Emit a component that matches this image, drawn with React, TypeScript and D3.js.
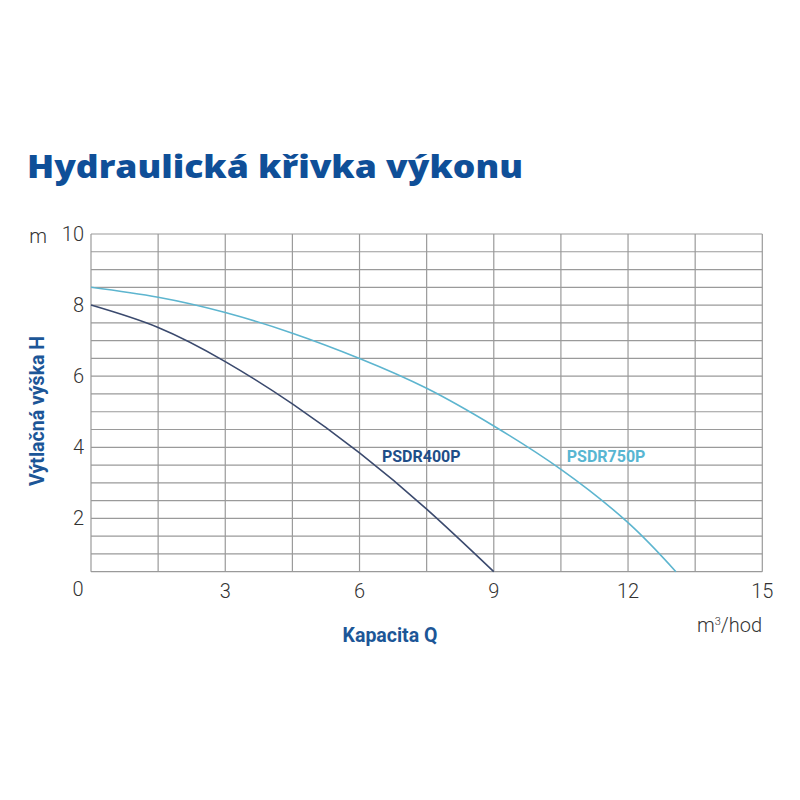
import React from "react";
import * as d3 from "d3";

const title = "Hydraulická křivka výkonu";
const xTicks = [3, 6, 9, 12, 15];
const yTicks = [2, 4, 6, 8, 10];
const xGrid = [0, 1.5, 3, 4.5, 6, 7.5, 9, 10.5, 12, 13.5, 15];
const yGrid = [0.5, 1, 1.5, 2, 2.5, 3, 3.5, 4, 4.5, 5, 5.5, 6, 6.5, 7, 7.5, 8, 8.5, 9, 9.5, 10];

const q400 = [0, 1.5, 3, 4.5, 6, 7.5, 9];
const h400 = [8.0, 7.37, 6.41, 5.22, 3.84, 2.26, 0.5];
const q750 = [0, 1.5, 3, 4.5, 6, 7.5, 9, 10.5, 12, 13.07];
const h750 = [8.5, 8.22, 7.79, 7.21, 6.5, 5.66, 4.6, 3.38, 1.88, 0.5];

const series = [
  { name: "PSDR400P", q: q400, h: h400, line: "#3b4a6e", label: "#1f4e88", lx: 6.5, ly: 3.75 },
  { name: "PSDR750P", q: q750, h: h750, line: "#5db5cf", label: "#58b6d2", lx: 10.63, ly: 3.75 },
];

export default function App() {
  const x = d3.scaleLinear().domain([0, 15]).range([91, 762.3]);
  const y = d3.scaleLinear().domain([0.5, 10]).range([571.7, 234]);
  const line = d3
    .line<[number, number]>()
    .x((d) => x(d[0]))
    .y((d) => y(d[1]))
    .curve(d3.curveNatural);
  const gridColor = "#9a9a9a";
  const tickFont = { fontFamily: "Roboto", fontWeight: 300, fontSize: 20, fill: "#333" } as const;
  const blue = "#1c5697";
  return (
    <svg width={800} height={800} style={{ position: "absolute", left: 0, top: 0, background: "#fff" }}>
      <text x={27} y={178} fontFamily="'Open Sans'" fontWeight={800} fontSize={32} fill="#0f4f98" textLength={496} lengthAdjust="spacingAndGlyphs">
        {title}
      </text>
      {yGrid.map((v) => (
        <line key={"h" + v} x1={x(0)} x2={x(15)} y1={y(v)} y2={y(v)} stroke={gridColor} strokeWidth={1.2} />
      ))}
      {xGrid.map((v) => (
        <line key={"v" + v} x1={x(v)} x2={x(v)} y1={y(0.5)} y2={y(10)} stroke={gridColor} strokeWidth={1.2} />
      ))}
      {series.map((s) => (
        <path key={s.name} d={line(s.q.map((q, i) => [q, s.h[i]] as [number, number])) || ""} fill="none" stroke={s.line} strokeWidth={1.6} />
      ))}
      {series.map((s) => (
        <text key={s.name + "l"} x={x(s.lx)} y={y(s.ly) + 6} fontFamily="Roboto" fontWeight={700} fontSize={16} fill={s.label}>
          {s.name}
        </text>
      ))}
      {yTicks.map((v) => (
        <text key={"yt" + v} x={84} y={y(v) + 7} textAnchor="end" {...tickFont}>
          {v}
        </text>
      ))}
      <text x={38} y={242.5} textAnchor="middle" {...tickFont}>m</text>
      <text x={78} y={596} textAnchor="middle" {...tickFont}>0</text>
      {xTicks.map((v) => (
        <text key={"xt" + v} x={x(v)} y={598} textAnchor="middle" {...tickFont}>
          {v}
        </text>
      ))}
      <text x={762} y={632} textAnchor="end" {...tickFont}>
        m<tspan dy={-7} fontSize={11}>3</tspan>
        <tspan dy={7}>/hod</tspan>
      </text>
      <text x={390} y={641.5} textAnchor="middle" fontFamily="Roboto" fontWeight={700} fontSize={19.5} fill={blue}>
        Kapacita Q
      </text>
      <text transform="translate(44,411) rotate(-90)" textAnchor="middle" fontFamily="Roboto" fontWeight={700} fontSize={19.5} fill={blue}>
        Výtlačná výška H
      </text>
    </svg>
  );
}
